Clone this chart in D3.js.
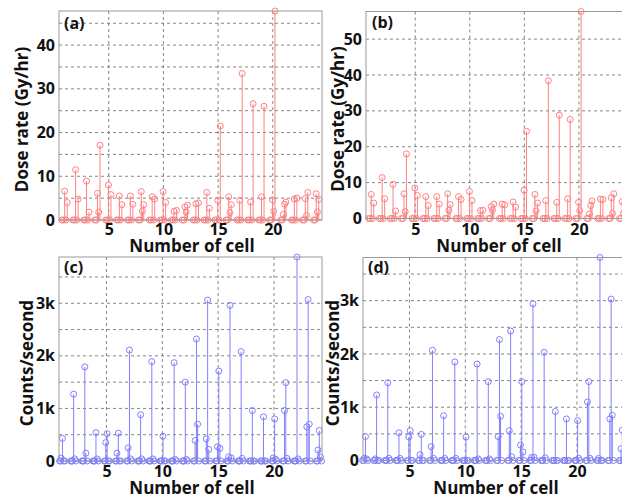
<!DOCTYPE html>
<html lang="en">
<head>
    <meta charset="UTF-8">
    <title>Dose rate and counts per cell</title>
    <script src="https://d3js.org/d3.v7.min.js"></script>
    <style>
        body { margin: 0; background: #fff; }
        text { font-family: "Open Sans", Lato, sans-serif; font-weight: 700; fill: #111; }
        .tick text { font-size: 16px; font-family: "Open Sans", sans-serif; }
        .title { font-size: 17px; }
        .label { font-size: 16px; }
    </style>
</head>
<body>
    <script>
        // cells 1..24, each cell has a few readings
        const cells = d3.range(1, 25);
        const doseOffsets = [-0.03, 0.08, 0.2];
        const countOffsets = [-0.06, 0.06, 0.16];
        const doseZeroOffsets = [-0.28, -0.13];
        const countZeroOffsets = [-0.2, -0.1, 0.26];

        // (a) dose rate, Gy/hr
        const doseA1 = [6.6, 11.5, 8.9, 6.1, 8.0, 5.5, 5.5, 6.5, 5.3, 6.5, 2.0, 3.0, 3.7, 6.3, 4.5, 5.3, 4.5, 4.1, 5.3, 4.6, 1.3, 4.8, 4.9, 6.0];
        const doseA2 = [0, 0, 0, 1.8, 0, 0, 0, 2.0, 0, 0, 0, 1.8, 0, 0, 0, 1.7, 0, 0, 0, 2.0, 3.6, 0, 1.0, 1.8];
        const doseA3 = [4.0, 4.8, 1.8, 17.1, 5.8, 3.5, 3.6, 3.5, 4.8, 4.0, 2.2, 3.4, 3.9, 2.7, 21.5, 3.5, 33.5, 26.6, 26.0, 47.8, 4.1, 5.0, 6.3, 4.7];

        // (b) dose rate, Gy/hr
        const doseB1 = [6.7, 11.4, 9.5, 6.9, 8.5, 6.1, 6.1, 6.9, 6.1, 7.5, 2.2, 3.3, 4.0, 4.6, 7.9, 6.7, 5.0, 4.5, 5.5, 4.5, 1.3, 5.4, 5.8, 4.7];
        const doseB2 = [0, 0, 0, 1.9, 0, 0, 0, 2.3, 0, 0, 0, 2.4, 0, 0, 0, 2.1, 0, 0, 0, 2.2, 3.6, 0, 1.4, 1.5];
        const doseB3 = [4.3, 5.5, 2.1, 18.0, 6.4, 3.6, 4.0, 3.9, 5.3, 5.0, 2.3, 4.0, 3.8, 3.2, 24.3, 4.3, 38.4, 28.8, 27.6, 57.7, 4.9, 5.3, 6.9, 4.2];

        // (c) counts/second
        const countC1 = [55, 0, 0, 0, 350, 150, 250, 0, 0, 0, 0, 0, 390, 420, 270, 80, 0, 0, 0, 60, 960, 0, 650, 210];
        const countC2 = [430, 1270, 1790, 540, 520, 530, 2110, 880, 1890, 470, 1870, 1500, 2320, 3060, 1710, 2960, 2080, 960, 840, 800, 1490, 3880, 3070, 580];
        const countC3 = [0, 40, 150, 40, 0, 0, 40, 40, 40, 0, 30, 30, 700, 220, 240, 60, 50, 0, 0, 30, 50, 40, 700, 75];

        // (d) counts/second
        const countD1 = [40, 30, 0, 0, 440, 110, 260, 0, 0, 0, 0, 0, 450, 560, 290, 60, 0, 0, 0, 0, 1100, 40, 780, 220];
        const countD2 = [450, 1230, 1460, 520, 560, 490, 2070, 840, 1850, 440, 1810, 1480, 2270, 2430, 1480, 2940, 2030, 920, 780, 750, 1480, 3810, 3030, 570];
        const countD3 = [30, 0, 40, 40, 0, 0, 40, 40, 40, 0, 30, 30, 830, 70, 160, 60, 50, 0, 0, 40, 40, 0, 850, 0];

        const xTicks = [5, 10, 15, 20];
        const doseTicksA = [0, 10, 20, 30, 40];
        const doseTicksB = [0, 10, 20, 30, 40, 50];
        const countTicks = [0, 1000, 2000, 3000];

        const kFormat = d => d === 0 ? "0" : (d / 1000) + "k";

        const panels = [
            { label: "(a)", series: [doseA1, doseA2, doseA3], offsets: doseOffsets, zeros: doseZeroOffsets,
              color: "#ff8080", yTitle: "Dose rate (Gy/hr)", yTicks: doseTicksA, grid: d3.range(5, 48, 5),
              fmt: d => d, box: { x: 59, y: 11, w: 263, h: 209 }, xDomain: [0.45, 24.5],
              titleX: 28, labelPos: [64, 29], tickPad: 4, xTitleY: 252 },
            { label: "(b)", series: [doseB1, doseB2, doseB3], offsets: doseOffsets, zeros: doseZeroOffsets,
              color: "#ff8080", yTitle: "Dose rate (Gy/hr)", yTicks: doseTicksB, grid: d3.range(10, 58, 10),
              fmt: d => d, box: { x: 366, y: 11.5, w: 262, h: 207 }, xDomain: [0.49, 24.5],
              titleX: 344, labelPos: [372, 28], tickPad: 5, xTitleY: 252 },
            { label: "(c)", series: [countC1, countC2, countC3], offsets: countOffsets, zeros: countZeroOffsets,
              color: "#8080ff", yTitle: "Counts/second", yTicks: countTicks, grid: d3.range(500, 3900, 500),
              fmt: kFormat, box: { x: 59, y: 257, w: 263, h: 204 }, xDomain: [0.75, 24.3],
              titleX: 33, labelPos: [64, 273], tickPad: 5, xTitleY: 494 },
            { label: "(d)", series: [countD1, countD2, countD3], offsets: countOffsets, zeros: countZeroOffsets,
              color: "#8080ff", yTitle: "Counts/second", yTicks: countTicks, grid: d3.range(500, 3900, 500),
              fmt: kFormat, box: { x: 363, y: 257.5, w: 262, h: 203 }, xDomain: [0.84, 24.3],
              titleX: 339, labelPos: [368, 273], tickPad: 5, xTitleY: 494 }
        ];

        const svg = d3.select("body").append("svg")
            .attr("width", 622)
            .attr("height", 500);

        panels.forEach(p => {
            const b = p.box;
            const g = svg.append("g").attr("transform", `translate(${b.x},${b.y})`);

            // flatten readings into points
            const points = [];
            cells.forEach((c, i) => {
                p.zeros.forEach(o => points.push({ x: c + o, v: 0 }));
                p.series.forEach((s, k) => points.push({ x: c + p.offsets[k], v: s[i] }));
            });

            const x = d3.scaleLinear().domain(p.xDomain).range([0, b.w]);
            const y = d3.scaleLinear().domain([0, d3.max(points, d => d.v)]).range([b.h, 0]);

            // grid
            g.append("g").selectAll("line").data(p.grid).enter().append("line")
                .attr("x1", 0).attr("x2", b.w)
                .attr("y1", d => y(d)).attr("y2", d => y(d))
                .attr("stroke", "#666").attr("stroke-width", 0.8).attr("stroke-dasharray", "3,3");
            g.append("g").selectAll("line").data(xTicks).enter().append("line")
                .attr("x1", d => x(d)).attr("x2", d => x(d))
                .attr("y1", 0).attr("y2", b.h)
                .attr("stroke", "#666").attr("stroke-width", 0.8).attr("stroke-dasharray", "3,3");

            // stems
            g.append("g").selectAll("line").data(points.filter(d => d.v > 0)).enter().append("line")
                .attr("x1", d => x(d.x)).attr("x2", d => x(d.x))
                .attr("y1", y(0)).attr("y2", d => y(d.v))
                .attr("stroke", p.color).attr("stroke-width", 1);

            g.append("line")
                .attr("x1", 0).attr("x2", b.w)
                .attr("y1", y(0)).attr("y2", y(0))
                .attr("stroke", p.color).attr("stroke-width", 1);

            g.append("g").selectAll("circle").data(points).enter().append("circle")
                .attr("cx", d => x(d.x)).attr("cy", d => y(d.v))
                .attr("r", 3)
                .attr("fill", "none")
                .attr("stroke", p.color).attr("stroke-width", 1);

            // frame
            g.append("rect")
                .attr("width", b.w).attr("height", b.h)
                .attr("fill", "none").attr("stroke", "#9a9a9a").attr("stroke-width", 1);

            // axes
            const ya = g.append("g").call(d3.axisLeft(y).tickValues(p.yTicks).tickFormat(p.fmt).tickSize(0).tickPadding(4));
            ya.select(".domain").remove();
            const xa = g.append("g").attr("transform", `translate(0,${b.h})`)
                .call(d3.axisBottom(x).tickValues(xTicks).tickSize(0).tickPadding(p.tickPad));
            xa.select(".domain").remove();
            g.selectAll(".tick text").attr("fill", "#111");

            svg.append("text").attr("class", "title")
                .attr("text-anchor", "middle")
                .attr("transform", `translate(${p.titleX},${b.y + b.h / 2 + 4}) rotate(-90)`)
                .text(p.yTitle);
            svg.append("text").attr("class", "title")
                .attr("text-anchor", "middle")
                .attr("x", b.x + 133).attr("y", p.xTitleY)
                .text("Number of cell");
            svg.append("text").attr("class", "label")
                .attr("x", p.labelPos[0]).attr("y", p.labelPos[1])
                .text(p.label);
        });
    </script>
</body>
</html>
